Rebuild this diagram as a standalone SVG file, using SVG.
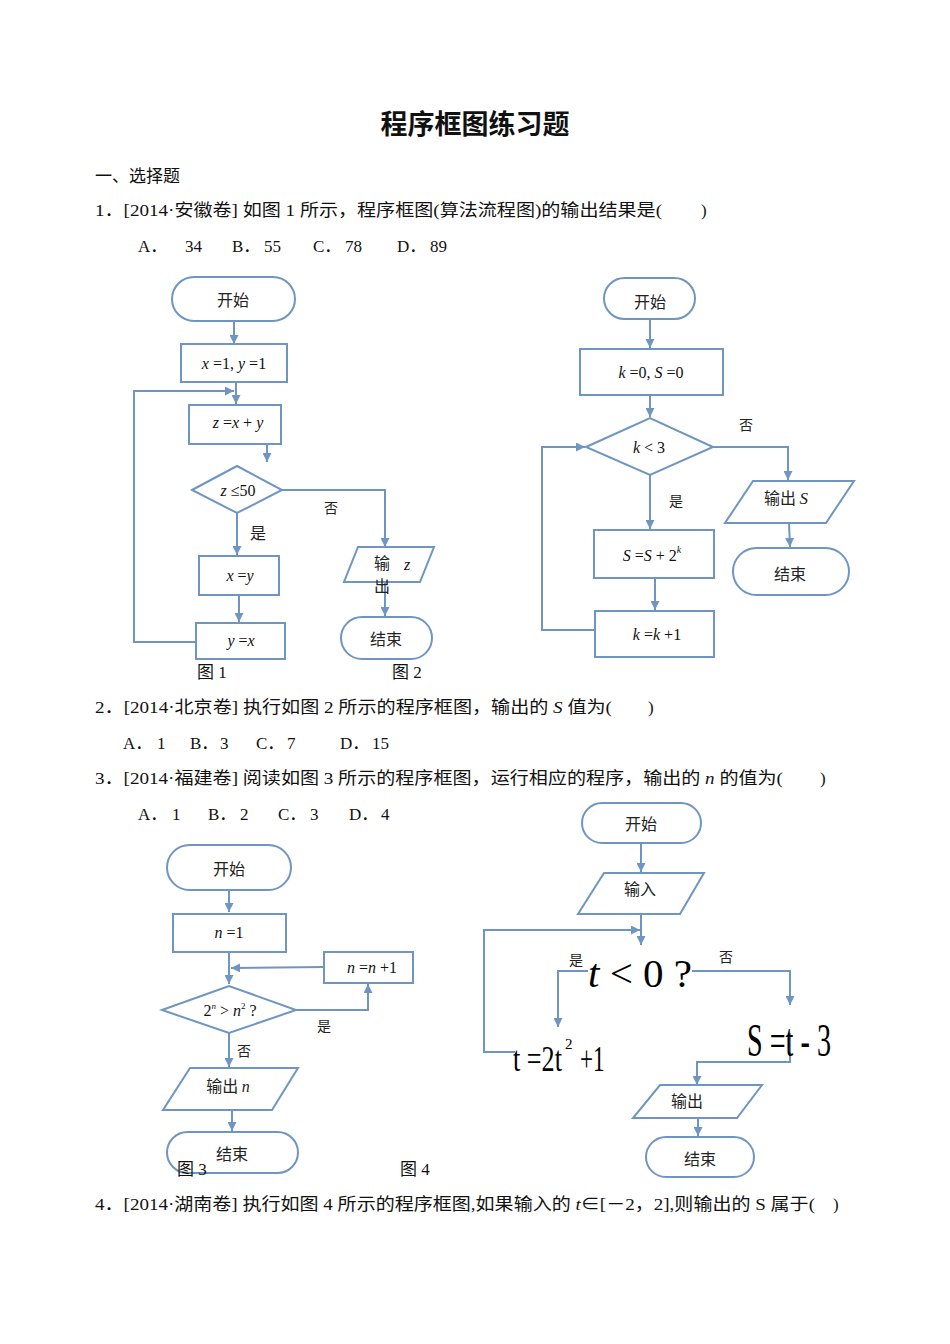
<svg xmlns="http://www.w3.org/2000/svg" width="950" height="1344" viewBox="0 0 950 1344">
<style>
.bg{fill:#ffffff}
.sh{fill:#ffffff;stroke:#6f95c3;stroke-width:2}
.ln{fill:none;stroke:#6f95c3;stroke-width:2}
.tx{font-family:"Liberation Serif","Noto Sans CJK SC",serif;font-size:17px;fill:#111}
.cj{font-family:"Noto Sans CJK SC",sans-serif;font-size:16px;fill:#222;text-anchor:middle}
.m{font-family:"Liberation Serif","Noto Sans CJK SC",serif;font-size:16px;fill:#111;text-anchor:middle}
.i{font-style:italic}
.sm{font-family:"Noto Sans CJK SC",sans-serif;font-size:14px;fill:#222}
.ttl{font-family:"Noto Sans CJK SC",sans-serif;font-size:27px;font-weight:bold;fill:#111;text-anchor:middle}
.big{font-family:"Liberation Serif",serif;fill:#000}
</style>
<defs>
<marker id="ah" viewBox="0 0 10 10" refX="10" refY="5" markerWidth="9" markerHeight="9" orient="auto" markerUnits="userSpaceOnUse"><path d="M0,0 L10,5 L0,10 z" fill="#6f95c3"/></marker>
</defs>
<rect class="bg" x="0" y="0" width="950" height="1344"/>

<g id="text">
<text class="ttl" x="475" y="134">程序框图练习题</text>
<text class="tx" x="95" y="182">一、选择题</text>
<text class="tx" x="95" y="216" textLength="567" lengthAdjust="spacingAndGlyphs">1．[2014·安徽卷] 如图 1 所示，程序框图(算法流程图)的输出结果是(</text>
<text class="tx" x="701" y="216">)</text>
<text class="tx" x="138" y="252">A．</text><text class="tx" x="185" y="252">34</text>
<text class="tx" x="232" y="252">B．</text><text class="tx" x="264" y="252">55</text>
<text class="tx" x="313" y="252">C．</text><text class="tx" x="345" y="252">78</text>
<text class="tx" x="397" y="252">D．</text><text class="tx" x="430" y="252">89</text>

<text class="tx" x="95" y="713" textLength="517" lengthAdjust="spacingAndGlyphs">2．[2014·北京卷] 执行如图 2 所示的程序框图，输出的 <tspan class="i">S</tspan> 值为(</text>
<text class="tx" x="648" y="713">)</text>
<text class="tx" x="123" y="749">A．</text><text class="tx" x="157" y="749">1</text>
<text class="tx" x="190" y="749">B．</text><text class="tx" x="220" y="749">3</text>
<text class="tx" x="256" y="749">C．</text><text class="tx" x="287" y="749">7</text>
<text class="tx" x="340" y="749">D．</text><text class="tx" x="372" y="749">15</text>

<text class="tx" x="95" y="784" textLength="688" lengthAdjust="spacingAndGlyphs">3．[2014·福建卷] 阅读如图 3 所示的程序框图，运行相应的程序，输出的 <tspan class="i">n</tspan> 的值为(</text>
<text class="tx" x="820" y="784">)</text>
<text class="tx" x="138" y="820">A．</text><text class="tx" x="172" y="820">1</text>
<text class="tx" x="208" y="820">B．</text><text class="tx" x="240" y="820">2</text>
<text class="tx" x="278" y="820">C．</text><text class="tx" x="310" y="820">3</text>
<text class="tx" x="349" y="820">D．</text><text class="tx" x="381" y="820">4</text>

<text class="tx" x="95" y="1210" textLength="720" lengthAdjust="spacingAndGlyphs">4．[2014·湖南卷] 执行如图 4 所示的程序框图,如果输入的 <tspan class="i">t</tspan>∈[－2，2],则输出的 S 属于(</text>
<text class="tx" x="833" y="1210">)</text>
</g>

<g id="connectors">
<!-- fig1 -->
<line class="ln" x1="234" y1="321" x2="234" y2="344" marker-end="url(#ah)"/>
<line class="ln" x1="236" y1="382" x2="236" y2="404" marker-end="url(#ah)"/>
<polyline class="ln" points="196,642 134,642 134,391 234,391" marker-end="url(#ah)"/>
<line class="ln" x1="267" y1="441" x2="267" y2="462" marker-end="url(#ah)"/>
<polyline class="ln" points="282,490 385,490 385,547" marker-end="url(#ah)"/>
<line class="ln" x1="237" y1="513" x2="237" y2="555" marker-end="url(#ah)"/>
<line class="ln" x1="239" y1="595" x2="239" y2="622" marker-end="url(#ah)"/>
<line class="ln" x1="385" y1="582" x2="385" y2="616" marker-end="url(#ah)"/>
<!-- fig2 -->
<line class="ln" x1="650" y1="319" x2="650" y2="348" marker-end="url(#ah)"/>
<line class="ln" x1="650" y1="395" x2="650" y2="417" marker-end="url(#ah)"/>
<polyline class="ln" points="713,447 788,447 788,480" marker-end="url(#ah)"/>
<line class="ln" x1="789" y1="523" x2="790" y2="547" marker-end="url(#ah)"/>
<line class="ln" x1="650" y1="475" x2="650" y2="529" marker-end="url(#ah)"/>
<line class="ln" x1="655" y1="578" x2="655" y2="610" marker-end="url(#ah)"/>
<polyline class="ln" points="595,630 542,630 542,447 585,447" marker-end="url(#ah)"/>
<!-- fig3 -->
<line class="ln" x1="229" y1="890" x2="229" y2="912" marker-end="url(#ah)"/>
<line class="ln" x1="229" y1="952" x2="229" y2="984" marker-end="url(#ah)"/>
<line class="ln" x1="324" y1="967" x2="231" y2="968" marker-end="url(#ah)"/>
<polyline class="ln" points="296,1010 368,1010 368,984" marker-end="url(#ah)"/>
<line class="ln" x1="229" y1="1033" x2="229" y2="1067" marker-end="url(#ah)"/>
<line class="ln" x1="232" y1="1110" x2="232" y2="1131" marker-end="url(#ah)"/>
<!-- fig4 -->
<line class="ln" x1="641" y1="843" x2="641" y2="872" marker-end="url(#ah)"/>
<line class="ln" x1="641" y1="914" x2="641" y2="945" marker-end="url(#ah)"/>
<polyline class="ln" points="515,1052 484,1052 484,930 640,930" marker-end="url(#ah)"/>
<polyline class="ln" points="588,971 558,971 558,1027" marker-end="url(#ah)"/>
<polyline class="ln" points="692,971 790,971 790,1005" marker-end="url(#ah)"/>
<polyline class="ln" points="790,1033 790,1062 697,1062 697,1085" marker-end="url(#ah)"/>
<line class="ln" x1="698" y1="1118" x2="698" y2="1136" marker-end="url(#ah)"/>
</g>

<g id="f1-start"><rect class="sh" x="172" y="277" width="123" height="44" rx="22"/><text class="cj" x="233" y="306" font-size="17">开始</text></g>
<g id="f1-init"><rect class="sh" x="181" y="344" width="106" height="38"/><text class="m" x="234" y="369"><tspan class="i">x</tspan> =1, <tspan class="i">y</tspan> =1</text></g>
<g id="f1-z"><rect class="sh" x="189" y="405" width="92" height="39"/><text class="m" x="238" y="428"><tspan class="i">z</tspan> =<tspan class="i">x</tspan> + <tspan class="i">y</tspan></text></g>
<g id="f1-cond"><polygon class="sh" points="192,490 237,466 282,490 237,513"/><text class="m" x="238" y="496"><tspan class="i">z</tspan> ≤50</text></g>
<text class="sm" x="324" y="513">否</text>
<text class="cj" x="258" y="539">是</text>
<g id="f1-xy"><rect class="sh" x="199" y="556" width="80" height="39"/><text class="m" x="240" y="581"><tspan class="i">x</tspan> =<tspan class="i">y</tspan></text></g>
<g id="f1-yx"><rect class="sh" x="196" y="623" width="89" height="36"/><text class="m" x="241" y="646"><tspan class="i">y</tspan> =<tspan class="i">x</tspan></text></g>
<g id="f1-out"><polygon class="sh" points="358,547 434,547 420,582 344,582"/><text class="cj" x="382" y="569" font-size="14">输</text><text class="m i" x="407" y="570">z</text><text class="cj" x="382" y="592" font-size="14">出</text></g>
<g id="f1-end"><rect class="sh" x="341" y="617" width="91" height="42" rx="21"/><text class="cj" x="386" y="645" font-size="15">结束</text></g>

<g id="f2-start"><rect class="sh" x="604" y="278" width="91" height="41" rx="20.5"/><text class="cj" x="650" y="308" font-size="17">开始</text></g>
<g id="f2-init"><rect class="sh" x="580" y="349" width="143" height="46"/><text class="m" x="651" y="378" font-size="17"><tspan class="i">k</tspan> =0, <tspan class="i">S</tspan> =0</text></g>
<g id="f2-cond"><polygon class="sh" points="586,447 650,418 713,447 650,475"/><text class="m" x="649" y="453" font-size="17"><tspan class="i">k</tspan> &lt; 3</text></g>
<text class="sm" x="739" y="430">否</text>
<text class="sm" x="669" y="506">是</text>
<g id="f2-out"><polygon class="sh" points="753,481 854,481 826,523 725,523"/><text class="cj" x="786" y="504" font-size="15">输出 <tspan font-family="Liberation Serif" font-style="italic" font-size="17">S</tspan></text></g>
<g id="f2-end"><rect class="sh" x="733" y="548" width="116" height="47" rx="23.5"/><text class="cj" x="790" y="580" font-size="17">结束</text></g>
<g id="f2-sum"><rect class="sh" x="594" y="530" width="120" height="48"/><text class="m" x="652" y="561" font-size="17"><tspan class="i">S</tspan> =<tspan class="i">S</tspan> + 2<tspan class="i" font-size="10" dy="-8">k</tspan></text></g>
<g id="f2-inc"><rect class="sh" x="595" y="611" width="119" height="46"/><text class="m" x="657" y="640" font-size="17"><tspan class="i">k</tspan> =<tspan class="i">k</tspan> +1</text></g>

<g id="f3-start"><rect class="sh" x="167" y="845" width="124" height="45" rx="22.5"/><text class="cj" x="229" y="875" font-size="17">开始</text></g>
<g id="f3-init"><rect class="sh" x="173" y="914" width="113" height="38"/><text class="m" x="229" y="938"><tspan class="i">n</tspan> =1</text></g>
<g id="f3-inc"><rect class="sh" x="324" y="952" width="89" height="31"/><text class="m" x="372" y="973"><tspan class="i">n</tspan> =<tspan class="i">n</tspan> +1</text></g>
<g id="f3-cond"><polygon class="sh" points="162,1010 229,986 296,1010 229,1033"/><text class="m" x="230" y="1016" font-size="15">2<tspan class="i" font-size="9" dy="-7">n</tspan><tspan dy="7"> &gt; </tspan><tspan class="i">n</tspan><tspan font-size="9" dy="-7">2</tspan><tspan dy="7"> ?</tspan></text></g>
<text class="sm" x="317" y="1031">是</text>
<text class="sm" x="237" y="1056">否</text>
<g id="f3-out"><polygon class="sh" points="190,1068 298,1068 272,1110 163,1110"/><text class="cj" x="228" y="1092" font-size="15">输出  <tspan font-family="Liberation Serif" font-style="italic" font-size="16">n</tspan></text></g>
<g id="f3-end"><rect class="sh" x="167" y="1132" width="131" height="41" rx="20.5"/><text class="cj" x="232" y="1160" font-size="15">结束</text></g>

<g id="f4-start"><rect class="sh" x="582" y="803" width="119" height="40" rx="20"/><text class="cj" x="641" y="830" font-size="15">开始</text></g>
<g id="f4-in"><polygon class="sh" points="604,873 704,873 680,914 578,914"/><text class="cj" x="640" y="895" font-size="15">输入</text></g>
<g id="f4-cond"><text class="sm" x="569" y="965" font-size="13">是</text><text class="big" font-size="40" x="588" y="987" textLength="104" lengthAdjust="spacingAndGlyphs"><tspan font-style="italic">t</tspan> &lt; 0 ?</text></g>
<text class="sm" x="719" y="962" font-size="13">否</text>
<g id="f4-t">
<text class="big" font-size="36" transform="translate(513,1071) scale(0.728,1)">t =2t</text>
<text class="big" font-size="15" x="565" y="1049">2</text>
<text class="big" font-size="36" transform="translate(580,1071) scale(0.64,1)">+1</text>
</g>
<g id="f4-s">
<text class="big" font-size="46" x="747" y="1056" textLength="84" lengthAdjust="spacingAndGlyphs">S =t - 3</text>
</g>
<g id="f4-out"><polygon class="sh" points="660,1085 762,1085 737,1118 633,1118"/><text class="cj" x="687" y="1107" font-size="15">输出</text></g>
<g id="f4-end"><rect class="sh" x="646" y="1137" width="108" height="40" rx="20"/><text class="cj" x="700" y="1165" font-size="15">结束</text></g>

<g id="fig-labels">
<text class="tx" x="197" y="678">图 1</text>
<text class="tx" x="392" y="678">图 2</text>
<text class="tx" x="177" y="1175">图 3</text>
<text class="tx" x="400" y="1175">图 4</text>
</g>
</svg>
